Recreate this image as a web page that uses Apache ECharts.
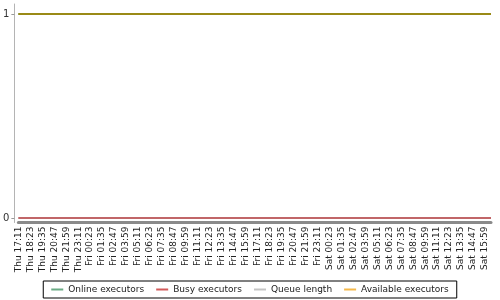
<!DOCTYPE html>
<html>
<head>
<meta charset="utf-8">
<script src="https://cdn.jsdelivr.net/npm/echarts@6/dist/echarts.min.js"></script>
<style>html,body{margin:0;padding:0;background:#fff}#c{width:500px;height:300px}</style>
</head>
<body>
<div id="c"></div>
<script>
// Tick labels along the time axis (every 72 minutes from Thu 17:11)
var tickLabels = [
  "Thu 17:11","Thu 18:23","Thu 19:35","Thu 20:47","Thu 21:59","Thu 23:11",
  "Fri 00:23","Fri 01:35","Fri 02:47","Fri 03:59","Fri 05:11","Fri 06:23","Fri 07:35","Fri 08:47","Fri 09:59","Fri 11:11","Fri 12:23","Fri 13:35","Fri 14:47","Fri 15:59","Fri 17:11","Fri 18:23","Fri 19:35","Fri 20:47","Fri 21:59","Fri 23:11",
  "Sat 00:23","Sat 01:35","Sat 02:47","Sat 03:59","Sat 05:11","Sat 06:23","Sat 07:35","Sat 08:47","Sat 09:59","Sat 11:11","Sat 12:23","Sat 13:35","Sat 14:47","Sat 15:59"
];
var tickStepMinutes = 72;
// Sample times (minutes since Thu 17:11) and the values at them
var sampleMinutes = [0, 2844];
var onlineExecutors = [1, 1];
var busyExecutors = [0, 0];
var queueLength = [0, 0];
var availableExecutors = [1, 1];
var seriesNames = ["Online executors","Busy executors","Queue length","Available executors"];

function pairs(vals){ return sampleMinutes.map(function(t,i){ return [t, vals[i]]; }); }

var chart = echarts.init(document.getElementById('c'), null, {renderer:'canvas'});
chart.setOption({
  animation: false,
  backgroundColor: '#ffffff',
  textStyle: {fontFamily: 'DejaVu Sans'},
  grid: {left: 18, right: 9, top: 4, bottom: 77.5, containLabel: false},
  xAxis: {
    type: 'value', min: 0, max: sampleMinutes[sampleMinutes.length-1], interval: tickStepMinutes,
    axisLine: {show: true, onZero: false, lineStyle: {color: '#8a8a8a', width: 3}},
    axisTick: {show: false},
    splitLine: {show: false},
    axisLabel: {
      rotate: 90, fontSize: 9, color: '#222', margin: 4, showMaxLabel: false, hideOverlap: false,
      fontFamily: 'DejaVu Sans',
      formatter: function(v){ if (v % tickStepMinutes !== 0) return ''; var s = tickLabels[v / tickStepMinutes]; return s || ''; }
    }
  },
  yAxis: {
    type: 'value', min: -0.022, max: 1.049, offset: 4,
    axisLine: {show: true, onZero: false, lineStyle: {color: '#b4b4b4', width: 1}},
    axisTick: {show: true, length: 3, lineStyle: {color: '#999'}, customValues: [0, 1]},
    splitLine: {show: false},
    axisLabel: {fontSize: 10, color: '#333', margin: 5, customValues: [0, 1], fontFamily: 'DejaVu Sans'}
  },
  legend: {
    bottom: 2, left: 'center',
    data: [
      {name: seriesNames[0], itemStyle: {color: '#6aab85'}},
      {name: seriesNames[1], itemStyle: {color: '#d25a5a'}},
      {name: seriesNames[2], itemStyle: {color: '#c4c4c4'}},
      {name: seriesNames[3], itemStyle: {color: '#f4b84a'}}
    ],
    icon: 'rect', itemWidth: 12, itemHeight: 2, itemGap: 12,
    borderColor: '#000', borderWidth: 1, borderRadius: 0, padding: [4, 8],
    textStyle: {fontSize: 9, color: '#222', fontFamily: 'DejaVu Sans'}
  },
  series: [
    {name: seriesNames[0], type: 'line', data: pairs(onlineExecutors), showSymbol: false, z: 2,
     itemStyle: {color: '#6aab85'}, lineStyle: {color: '#6aab85', width: 2}},
    {name: seriesNames[1], type: 'line', data: pairs(busyExecutors), showSymbol: false, z: 4,
     itemStyle: {color: '#d25a5a'}, lineStyle: {color: '#c0474a', width: 1.5}},
    {name: seriesNames[2], type: 'line', data: pairs(queueLength), showSymbol: false, z: 3,
     itemStyle: {color: '#c4c4c4'}, lineStyle: {color: '#c4c4c4', width: 2}},
    {name: seriesNames[3], type: 'line', data: pairs(availableExecutors), showSymbol: false, z: 5,
     itemStyle: {color: '#f4b84a'}, lineStyle: {color: '#9a8a16', width: 2.2}}
  ]
});
</script>
</body>
</html>
